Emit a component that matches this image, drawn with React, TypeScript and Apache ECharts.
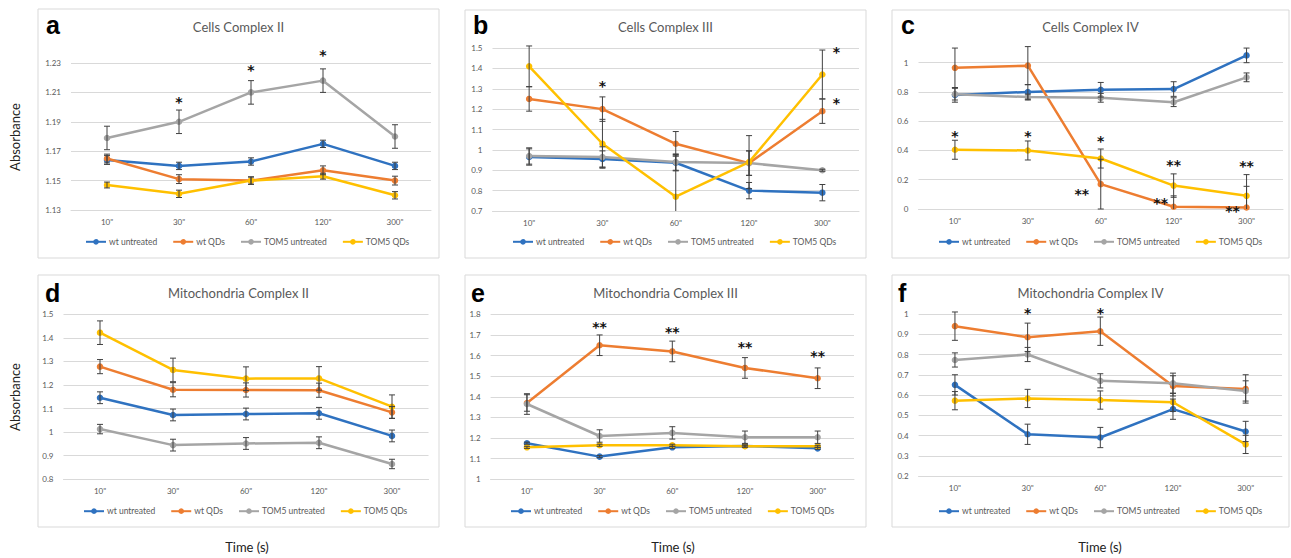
import React, { useEffect, useRef } from 'react';
import * as echarts from 'echarts';

// ---------- data ----------
const CATEGORIES = ['10"', '30"', '60"', '120"', '300"'];
const SERIES_NAMES = ['wt untreated', 'wt QDs', 'TOM5 untreated', 'TOM5 QDs'];
const SERIES_COLORS = ['#2F72C0', '#ED7D31', '#A5A5A5', '#FFC000'];

// a – Cells Complex II
const cellsIIMeans = [
  [1.164, 1.16, 1.163, 1.175, 1.16],
  [1.165, 1.151, 1.15, 1.157, 1.15],
  [1.179, 1.19, 1.21, 1.218, 1.18],
  [1.147, 1.141, 1.15, 1.153, 1.14],
];
const cellsIIErrors = [
  [0.003, 0.0025, 0.0025, 0.0025, 0.0025],
  [0.003, 0.003, 0.0025, 0.003, 0.003],
  [0.008, 0.008, 0.008, 0.008, 0.008],
  [0.002, 0.0025, 0.0025, 0.002, 0.0025],
];
const cellsIIStars = [[1, 1.206, '*', 0], [2, 1.228, '*', 0], [3, 1.238, '*', 0]];

// b – Cells Complex III
const cellsIIIMeans = [
  [0.965, 0.955, 0.937, 0.8, 0.79],
  [1.25, 1.2, 1.03, 0.935, 1.19],
  [0.97, 0.965, 0.94, 0.935, 0.9],
  [1.41, 1.03, 0.77, 0.94, 1.37],
];
const cellsIIIErrors = [
  [0.04, 0.04, 0.04, 0.04, 0.04],
  [0.06, 0.06, 0.06, 0.06, 0.06],
  [0.04, 0.05, 0.04, 0.06, 0.005],
  [0.1, 0.12, 0.2, 0.13, 0.12],
];
const cellsIIIStars = [[1, 1.333, '*', 0], [4, 1.5, '*', 14], [4, 1.25, '*', 14]];

// c – Cells Complex IV
const cellsIVMeans = [
  [0.78, 0.8, 0.815, 0.82, 1.05],
  [0.965, 0.98, 0.17, 0.015, 0.01],
  [0.785, 0.765, 0.76, 0.73, 0.9],
  [0.405, 0.4, 0.345, 0.16, 0.09],
];
const cellsIVErrors = [
  [0.05, 0.05, 0.05, 0.05, 0.05],
  [0.135, 0.13, 0.17, 0.075, 0.145],
  [0.04, 0.02, 0.03, 0.03, 0.03],
  [0.065, 0.065, 0.065, 0.08, 0.145],
];
const cellsIVStars = [
  [0, 0.523, '*', 0], [1, 0.523, '*', 0], [2, 0.495, '*', 0], [2, 0.127, '**', -19],
  [3, 0.325, '**', 0], [3, 0.068, '**', -13], [4, 0.32, '**', 0], [4, 0.014, '**', -14],
];

// d – Mitochondria Complex II
const mitoIIMeans = [
  [1.146, 1.073, 1.077, 1.08, 0.984],
  [1.278, 1.18, 1.179, 1.178, 1.084],
  [1.013, 0.945, 0.952, 0.955, 0.865],
  [1.422, 1.264, 1.227, 1.228, 1.108],
];
const mitoIIErrors = [
  [0.025, 0.025, 0.025, 0.025, 0.025],
  [0.03, 0.03, 0.03, 0.03, 0.025],
  [0.02, 0.025, 0.025, 0.025, 0.02],
  [0.05, 0.05, 0.05, 0.05, 0.05],
];
const mitoIIStars: any[] = [];

// e – Mitochondria Complex III
const mitoIIIMeans = [
  [1.175, 1.11, 1.155, 1.162, 1.15],
  [1.37, 1.65, 1.62, 1.54, 1.49],
  [1.365, 1.21, 1.225, 1.204, 1.204],
  [1.155, 1.165, 1.165, 1.16, 1.16],
];
const mitoIIIErrors = [
  [0.005, 0.005, 0.005, 0.005, 0.005],
  [0.04, 0.05, 0.05, 0.05, 0.05],
  [0.05, 0.03, 0.03, 0.03, 0.03],
  [0.005, 0.005, 0.005, 0.005, 0.005],
];
const mitoIIIStars = [[1, 1.756, '**', 0], [2, 1.732, '**', 0], [3, 1.66, '**', 0], [4, 1.619, '**', 0]];

// f – Mitochondria Complex IV
const mitoIVMeans = [
  [0.65, 0.406, 0.39, 0.53, 0.42],
  [0.94, 0.885, 0.915, 0.645, 0.63],
  [0.773, 0.8, 0.67, 0.658, 0.62],
  [0.572, 0.583, 0.575, 0.564, 0.356],
];
const mitoIVErrors = [
  [0.05, 0.05, 0.05, 0.05, 0.05],
  [0.07, 0.07, 0.07, 0.05, 0.07],
  [0.035, 0.035, 0.035, 0.05, 0.05],
  [0.045, 0.045, 0.045, 0.045, 0.045],
];
const mitoIVStars = [[1, 1.023, '*', 0], [2, 1.025, '*', 0]];

const PANELS = [
  { letter: 'a', title: 'Cells Complex II', means: cellsIIMeans, errors: cellsIIErrors, stars: cellsIIStars, yMin: 1.13, yMax: 1.23, yStep: 0.02 },
  { letter: 'b', title: 'Cells Complex III', means: cellsIIIMeans, errors: cellsIIIErrors, stars: cellsIIIStars, yMin: 0.7, yMax: 1.5, yStep: 0.1 },
  { letter: 'c', title: 'Cells Complex IV', means: cellsIVMeans, errors: cellsIVErrors, stars: cellsIVStars, yMin: 0, yMax: 1, yStep: 0.2 },
  { letter: 'd', title: 'Mitochondria Complex II', means: mitoIIMeans, errors: mitoIIErrors, stars: mitoIIStars, yMin: 0.8, yMax: 1.5, yStep: 0.1 },
  { letter: 'e', title: 'Mitochondria Complex III', means: mitoIIIMeans, errors: mitoIIIErrors, stars: mitoIIIStars, yMin: 1, yMax: 1.8, yStep: 0.1 },
  { letter: 'f', title: 'Mitochondria Complex IV', means: mitoIVMeans, errors: mitoIVErrors, stars: mitoIVStars, yMin: 0.2, yMax: 1, yStep: 0.1 },
];

// ---------- layout ----------
const LAYOUT = [
  { box: [38, 9, 401, 249], grid: [71, 63, 360, 147], letterX: 46, letterY: 24.5, titleY: 27, legendLeft: 85, legendY: 242.3 },
  { box: [465, 10, 401, 248], grid: [492.5, 48, 366.5, 163], letterX: 473, letterY: 24.5, titleY: 27, legendLeft: 512, legendY: 242.3 },
  { box: [892, 10, 397, 248], grid: [918.5, 62.7, 364.5, 146.3], letterX: 901, letterY: 24.5, titleY: 27, legendLeft: 938, legendY: 242.3 },
  { box: [38, 275, 401, 252], grid: [63.5, 314.3, 365, 165], letterX: 45, letterY: 292.5, titleY: 293, legendLeft: 83, legendY: 511.7 },
  { box: [465, 275, 401, 252], grid: [490.6, 314.3, 363.4, 165], letterX: 471, letterY: 292.5, titleY: 293, legendLeft: 510, legendY: 511.7 },
  { box: [892, 275, 397, 252], grid: [918.6, 314, 363.4, 162], letterX: 898, letterY: 292.5, titleY: 293, legendLeft: 938, legendY: 511.7 },
];

const FONT = 'Lato, "Open Sans", sans-serif';
const GRID_COLOR = '#d9d9d9';
const LABEL_COLOR = '#595959';

export default function App() {
  const ref = useRef<HTMLDivElement>(null);

  useEffect(() => {
    const chart = echarts.init(ref.current as HTMLDivElement, null, { renderer: 'svg' });
    const grids: any[] = [];
    const xAxes: any[] = [];
    const yAxes: any[] = [];
    const series: any[] = [];
    const legends: any[] = [];
    const graphics: any[] = [];

    PANELS.forEach((p, i) => {
      const L = LAYOUT[i];
      const span = +(p.yMax - p.yMin).toFixed(6);
      grids.push({ left: L.grid[0], top: L.grid[1], width: L.grid[2], height: L.grid[3] });
      xAxes.push({
        type: 'category', gridIndex: i, data: CATEGORIES, boundaryGap: true,
        axisLine: { lineStyle: { color: GRID_COLOR } }, axisTick: { show: false },
        axisLabel: { color: LABEL_COLOR, fontSize: 8, margin: 8, fontFamily: FONT },
      });
      yAxes.push({
        type: 'value', gridIndex: i, min: 0, max: span, interval: p.yStep,
        axisLine: { show: false }, axisTick: { show: false },
        splitLine: { lineStyle: { color: GRID_COLOR, width: 1 } },
        axisLabel: {
          color: LABEL_COLOR, fontSize: 8, margin: 10, fontFamily: FONT,
          formatter: (v: number) => String(parseFloat((v + p.yMin).toFixed(2))),
        },
      });

      p.means.forEach((vals, s) => {
        series.push({
          type: 'line', name: SERIES_NAMES[s], xAxisIndex: i, yAxisIndex: i,
          data: vals.map((v) => +(v - p.yMin).toFixed(6)),
          symbol: 'circle', symbolSize: 6.5, showSymbol: true, clip: false,
          lineStyle: { color: SERIES_COLORS[s], width: 2.5 },
          itemStyle: { color: SERIES_COLORS[s] },
          z: 2,
        });
      });

      const errData: any[] = [];
      p.means.forEach((vals, s) => {
        vals.forEach((v, c) => {
          const e = p.errors[s][c];
          errData.push([c, +(v - e - p.yMin).toFixed(6), +(v + e - p.yMin).toFixed(6)]);
        });
      });
      series.push({
        type: 'custom', xAxisIndex: i, yAxisIndex: i, silent: true, clip: false, z: 4,
        encode: { x: 0, y: [1, 2] },
        data: errData,
        renderItem: (_params: any, api: any) => {
          const c = api.value(0);
          let lo = api.value(1);
          const hi = api.value(2);
          let clamped = false;
          if (lo < 0) { lo = 0; clamped = true; }
          const pHi = api.coord([c, hi]);
          const pLo = api.coord([c, lo]);
          const style = { stroke: '#404040', lineWidth: 1 };
          const children: any[] = [
            { type: 'line', shape: { x1: pHi[0], y1: pHi[1], x2: pLo[0], y2: pLo[1] }, style },
            { type: 'line', shape: { x1: pHi[0] - 3, y1: pHi[1], x2: pHi[0] + 3, y2: pHi[1] }, style },
          ];
          if (!clamped) {
            children.push({ type: 'line', shape: { x1: pLo[0] - 3, y1: pLo[1], x2: pLo[0] + 3, y2: pLo[1] }, style });
          }
          return { type: 'group', children };
        },
      });

      if (p.stars.length) {
        series.push({
          type: 'custom', xAxisIndex: i, yAxisIndex: i, silent: true, clip: false, z: 5,
          encode: { x: 0, y: 1 },
          data: p.stars.map((s: any) => [s[0], +(s[1] - p.yMin).toFixed(6)]),
          renderItem: (params: any, api: any) => {
            const st: any = p.stars[params.dataIndex];
            const pt = api.coord([st[0], st[1] - p.yMin]);
            return {
              type: 'text', x: pt[0] + st[3], y: pt[1] + 4,
              style: {
                text: st[2], fill: '#111', font: 'bold 14px "DejaVu Sans", sans-serif',
                align: 'center', verticalAlign: 'middle', textAlign: 'center', textVerticalAlign: 'middle',
              },
            };
          },
        });
      }

      legends.push({
        left: L.legendLeft, top: L.legendY - 5, padding: 0, itemGap: 15, itemWidth: 20, itemHeight: 7,
        data: SERIES_NAMES, selectedMode: false,
        textStyle: { fontSize: 8.5, color: LABEL_COLOR, fontFamily: FONT, padding: [0, 0, 0, -2] },
      });

      const [bx, by, bw, bh] = L.box;
      graphics.push({
        type: 'rect', shape: { x: bx, y: by, width: bw, height: bh }, silent: true, z: -10,
        style: { fill: 'none', stroke: GRID_COLOR, lineWidth: 1 },
      });
      graphics.push({
        type: 'text', x: L.letterX, y: L.letterY, silent: true,
        style: { text: p.letter, fill: '#000', font: 'bold 25px "Liberation Sans", Arial, sans-serif', textAlign: 'left', textVerticalAlign: 'middle' },
      });
      graphics.push({
        type: 'text', x: bx + bw / 2, y: L.titleY, silent: true,
        style: { text: p.title, fill: LABEL_COLOR, font: `13px ${FONT}`, textAlign: 'center', textVerticalAlign: 'middle' },
      });
    });

    [137, 397].forEach((y) => {
      graphics.push({
        type: 'text', x: 15, y, rotation: Math.PI / 2, silent: true,
        style: { text: 'Absorbance', fill: '#222', font: `13px ${FONT}`, textAlign: 'center', textVerticalAlign: 'middle' },
      });
    });
    [247, 673, 1100].forEach((x) => {
      graphics.push({
        type: 'text', x, y: 547, silent: true,
        style: { text: 'Time (s)', fill: '#222', font: `13px ${FONT}`, textAlign: 'center', textVerticalAlign: 'middle' },
      });
    });

    chart.setOption({
      animation: false,
      backgroundColor: '#ffffff',
      grid: grids,
      xAxis: xAxes,
      yAxis: yAxes,
      legend: legends,
      series,
      graphic: graphics,
    });

    return () => chart.dispose();
  }, []);

  return <div ref={ref} style={{ position: 'fixed', left: 0, top: 0, width: 1291, height: 558 }} />;
}
